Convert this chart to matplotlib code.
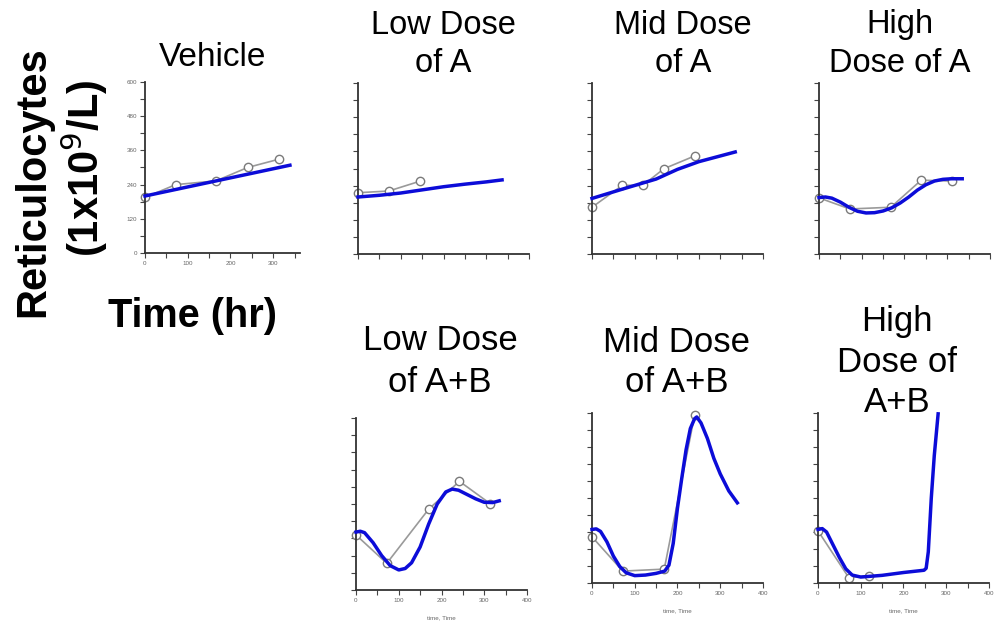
import numpy as np
import matplotlib.pyplot as plt
from matplotlib.ticker import MultipleLocator

plt.rcParams['font.family'] = ['Liberation Sans', 'DejaVu Sans']

# observed values (grey line with open circles)
veh_t = [0, 72, 166, 240, 313]
veh_y = [195, 240, 253, 300, 329]
lowA_t = [0, 72, 144]
lowA_y = [215, 221, 255]
midA_t = [0, 71, 119, 168, 240]
midA_y = [164, 241, 241, 299, 344]
highA_t = [0, 72, 168, 239, 310]
highA_y = [197, 158, 164, 259, 256]
lowAB_t = [0, 72, 170, 242, 314]
lowAB_y = [192, 93, 282, 379, 301]
midAB_t = [0, 72, 169, 240]
midAB_y = [163, 42, 49, 592]
highAB_t = [0, 72, 120]
highAB_y = [184, 19, 26]

# model fits (blue line)
veh_ft = [0, 339]
veh_fy = [200, 308]
lowA_ft = [0, 50, 100, 150, 200, 250, 300, 337]
lowA_fy = [200, 206, 214, 225, 236, 245, 253, 260]
midA_ft = [0, 72, 150, 200, 250, 335]
midA_fy = [195, 228, 263, 297, 324, 358]
highA_ft = [0, 15, 30, 50, 70, 90, 110, 130, 150, 170, 190, 210, 230, 250, 270, 290, 310, 335]
highA_fy = [198, 200, 196, 182, 164, 150, 144, 145, 151, 162, 179, 200, 224, 243, 256, 262, 264, 264]
lowAB_ft = [0, 10, 20, 40, 60, 80, 100, 115, 130, 150, 170, 190, 210, 225, 240, 260, 280, 300, 320, 335]
lowAB_fy = [202, 205, 200, 165, 120, 85, 70, 75, 95, 150, 230, 300, 342, 352, 348, 333, 318, 306, 305, 311]
midAB_ft = [0, 10, 20, 35, 50, 65, 80, 100, 125, 150, 170, 180, 190, 200, 210, 220, 230, 240, 245,
            255, 270, 285, 300, 320, 340]
midAB_fy = [189, 191, 182, 145, 95, 58, 36, 26, 28, 34, 42, 63, 140, 265, 370, 470, 545, 580, 586,
            565, 510, 440, 385, 325, 283]
highAB_ft = [0, 10, 20, 35, 50, 65, 80, 100, 150, 200, 248, 253, 258, 265, 272, 281]
highAB_fy = [189, 192, 180, 135, 90, 50, 28, 21, 27, 37, 45, 52, 110, 300, 450, 597]

W, H = 1003, 633
fig = plt.figure(figsize=(W / 100, H / 100), dpi=100)
pxu = 0.4275  # pixels per hour


def panel(left, bottom, top, t, y, ft, fy, xmax=400, ylabels=False, xlabels=False):
    ax = fig.add_axes([left / W, 1 - bottom / H, xmax * pxu / W, (bottom - top) / H])
    ax.plot(ft, fy, color='#0c0cd8', lw=2.5, zorder=3, clip_on=False)
    ax.plot(t, y, color='#9a9a9a', lw=1.2, marker='o', ms=6, mfc='white',
            mec='#7a7a7a', mew=1.0, zorder=2, clip_on=False)
    ax.set_xlim(0, xmax)
    ax.set_ylim(0, 600)
    for s in ['top', 'right']:
        ax.spines[s].set_visible(False)
    for s in ['left', 'bottom']:
        ax.spines[s].set_color('#333333')
        ax.spines[s].set_linewidth(1.3)
    ax.xaxis.set_major_locator(MultipleLocator(100))
    ax.xaxis.set_minor_locator(MultipleLocator(50))
    ax.yaxis.set_major_locator(MultipleLocator(120))
    ax.yaxis.set_minor_locator(MultipleLocator(60))
    ax.tick_params(which='both', direction='out', length=3.5, width=0.8, color='#444444',
                   labelsize=4.5, labelcolor='#666666', pad=2)
    if not ylabels:
        ax.set_yticklabels([])
    if not xlabels:
        ax.set_xticklabels([])
    ax.patch.set_alpha(0)
    return ax


panel(145, 253, 82, veh_t, veh_y, veh_ft, veh_fy, xmax=362, ylabels=True, xlabels=True)
panel(358, 254, 83, lowA_t, lowA_y, lowA_ft, lowA_fy)
panel(592, 254, 83, midA_t, midA_y, midA_ft, midA_fy)
panel(819, 254, 83, highA_t, highA_y, highA_ft, highA_fy)
for l, b, tp, t, y, ft, fy in [(356, 590, 418, lowAB_t, lowAB_y, lowAB_ft, lowAB_fy),
                               (592, 583, 413, midAB_t, midAB_y, midAB_ft, midAB_fy),
                               (818, 583, 413, highAB_t, highAB_y, highAB_ft, highAB_fy)]:
    ax = panel(l, b, tp, t, y, ft, fy, xlabels=True)
    ax.set_xlabel('time, Time', fontsize=4.5, color='#666666', labelpad=9)


def label(x, y, s, **kw):
    fig.text(x / W, 1 - y / H, s, ha='center', va='center', **kw)


top_size = 23.5
bot_size = 25
label(213, 58, 'Vehicle', fontsize=24)
label(443, 25, 'Low Dose', fontsize=top_size)
label(443, 63, 'of A', fontsize=top_size)
label(683, 25, 'Mid Dose', fontsize=top_size)
label(683, 63, 'of A', fontsize=top_size)
label(900, 24, 'High', fontsize=top_size)
label(900, 63, 'Dose of A', fontsize=top_size)
label(440, 341, 'Low Dose', fontsize=bot_size)
label(440, 382, 'of A+B', fontsize=bot_size)
label(677, 343, 'Mid Dose', fontsize=bot_size)
label(677, 382, 'of A+B', fontsize=bot_size)
label(897, 322, 'High', fontsize=bot_size)
label(897, 362, 'Dose of', fontsize=bot_size)
label(897, 402, 'A+B', fontsize=bot_size)

label(33, 182, 'Reticulocytes', fontsize=30, fontweight='bold', rotation=90)
label(84, 168, '(1x10$^{9}$/L)', fontsize=30, fontweight='bold', rotation=90)
label(192, 316, 'Time (hr)', fontsize=28.5, fontweight='bold')

plt.savefig('out.png', dpi=100)
